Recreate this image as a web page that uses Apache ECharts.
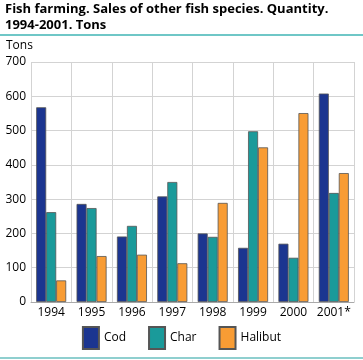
<!DOCTYPE html>
<html><head><meta charset="utf-8">
<script src="https://cdn.jsdelivr.net/npm/echarts@6/dist/echarts.min.js"></script>
<style>html,body{margin:0;padding:0;background:#fff}#c{width:363px;height:360px}</style>
</head><body><div id="c"></div>
<script>
const categories = ['1994','1995','1996','1997','1998','1999','2000','2001*'];
const cod = [568, 286, 191, 308, 200, 158, 170, 608];
const charV = [262, 274, 222, 350, 190, 498, 129, 318];
const halibut = [63, 134, 138, 113, 289, 451, 551, 376];
const yTicks = [0, 100, 200, 300, 400, 500, 600, 700];

const chart = echarts.init(document.getElementById('c'));
const font = '"Open Sans", "Noto Sans", sans-serif';
const barBorder = {borderColor: '#555', borderWidth: 0.8};
chart.setOption({
  animation: false,
  textStyle: {fontFamily: font},
  title: {
    text: 'Fish farming. Sales of other fish species. Quantity.\n1994-2001. Tons',
    left: 5, top: 0, padding: [1, 0, 0, 0],
    textStyle: {fontSize: 13, fontWeight: 'bold', color: '#000', fontFamily: font, lineHeight: 16}
  },
  graphic: [
    {type: 'line', shape: {x1: 0, y1: 35, x2: 363, y2: 35}, style: {stroke: '#3fb5b5', lineWidth: 1.5}},
    {type: 'line', shape: {x1: 0, y1: 358, x2: 363, y2: 358}, style: {stroke: '#8fcfcf', lineWidth: 2}},
    {type: 'text', left: 6, top: 40, style: {text: 'Tons', fontSize: 12, fill: '#000', fontFamily: font}}
  ],
  legend: {
    bottom: 5, left: 'center', itemWidth: 16, itemHeight: 22, itemGap: 22,
    icon: 'rect',
    textStyle: {fontSize: 12, color: '#000', fontFamily: font},
    data: ['Cod', 'Char', 'Halibut']
  },
  grid: {left: 31, right: 9, top: 62, bottom: 58, containLabel: false},
  xAxis: {
    type: 'category', data: categories,
    axisLine: {lineStyle: {color: '#aaa'}},
    axisTick: {show: false},
    splitLine: {show: true, interval: 0, lineStyle: {color: '#d3d3d3'}},
    axisLabel: {fontSize: 12, color: '#000', margin: 5, interval: 0}
  },
  yAxis: {
    type: 'value', min: yTicks[0], max: yTicks[yTicks.length-1], interval: 100,
    axisLine: {show: false}, axisTick: {show: false},
    splitLine: {lineStyle: {color: '#d3d3d3'}},
    axisLabel: {fontSize: 12, color: '#000', margin: 5}
  },
  series: [
    {name: 'Cod', type: 'bar', data: cod, barWidth: 10, barGap: '0%', itemStyle: Object.assign({color: '#1b3590'}, barBorder)},
    {name: 'Char', type: 'bar', data: charV, barWidth: 10, itemStyle: Object.assign({color: '#1a9a9a'}, barBorder)},
    {name: 'Halibut', type: 'bar', data: halibut, barWidth: 10, itemStyle: Object.assign({color: '#f89c34'}, barBorder)}
  ]
});
</script></body></html>
